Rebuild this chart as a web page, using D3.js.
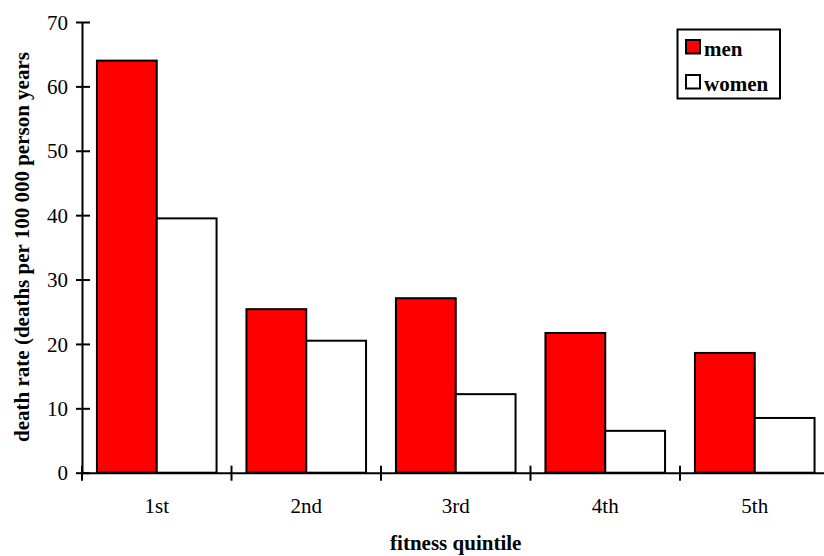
<!DOCTYPE html>
<html><head><meta charset="utf-8">
<script src="https://cdn.jsdelivr.net/npm/d3@7"></script>
<style>
body{margin:0;background:#fff}
svg{display:block}
text{font-family:"Liberation Serif","Times New Roman",serif;fill:#000}
</style></head>
<body>
<script>
const categories = ["1st","2nd","3rd","4th","5th"];
const seriesNames = ["men","women"];
const men = [64.0, 25.4, 27.1, 21.7, 18.6];
const women = [39.5, 20.5, 12.2, 6.5, 8.5];
const yTicks = [0,10,20,30,40,50,60,70];
const colors = {men:"#ff0000", women:"#ffffff"};

const W = 824, H = 556;
const mLeft = 82, mRight = 829.5, mTop = 22, mBottom = 472.7;

const svg = d3.select("body").append("svg").attr("width", W).attr("height", H);

const x = d3.scaleBand().domain(categories).range([mLeft, mRight]).padding(0);
const bw = x.bandwidth();
const xs = d3.scaleBand().domain(seriesNames).range([bw*0.1, bw*0.9]).padding(0);
const y = d3.scaleLinear().domain([0,70]).range([mBottom, mTop]);

const data = categories.map((c,i)=>({cat:c, men:men[i], women:women[i]}));

// bars
const g = svg.append("g");
data.forEach(d=>{
  seriesNames.forEach(s=>{
    g.append("rect")
      .attr("x", x(d.cat)+xs(s))
      .attr("y", y(d[s]))
      .attr("width", xs.bandwidth())
      .attr("height", y(0)-y(d[s]))
      .attr("fill", colors[s])
      .attr("stroke", "#000")
      .attr("stroke-width", 2);
  });
});

// y axis
const yAxis = svg.append("g").attr("transform", `translate(${mLeft},0)`)
  .call(d3.axisLeft(y).tickValues(yTicks).tickSize(0).tickPadding(14));
yAxis.select(".domain").attr("stroke","#000").attr("stroke-width",2);
yAxis.selectAll(".tick text").attr("font-size", 21).attr("font-family","Liberation Serif").attr("dy","0.34em");
yAxis.selectAll(".tick").append("line").attr("x1",-6).attr("x2",8).attr("stroke","#000").attr("stroke-width",2);

// x axis
const xAxis = svg.append("g").attr("transform", `translate(0,${mBottom})`)
  .call(d3.axisBottom(x).tickSize(0).tickPadding(0));
xAxis.select(".domain").attr("stroke","#000").attr("stroke-width",2);
xAxis.selectAll(".tick text").attr("font-size", 21).attr("font-family","Liberation Serif")
  .attr("y", 40).attr("dy", 0);
// boundary ticks
const bounds = categories.map(c=>x(c)).concat([x(categories[categories.length-1])+bw]);
svg.append("g").selectAll("line").data(bounds).join("line")
  .attr("x1", d=>d).attr("x2", d=>d).attr("y1", mBottom-7).attr("y2", mBottom+8)
  .attr("stroke","#000").attr("stroke-width",2);

// axis titles
svg.append("text").attr("x", (mLeft+mRight)/2).attr("y", 550).attr("text-anchor","middle")
  .attr("font-size", 21).attr("font-weight","bold").text("fitness quintile");
svg.append("text").attr("transform", `translate(29,${247}) rotate(-90)`).attr("text-anchor","middle")
  .attr("font-size", 21).attr("font-weight","bold").text("death rate (deaths per 100 000 person years");

// legend
const lg = svg.append("g");
lg.append("rect").attr("x",677.5).attr("y",29.5).attr("width",102.5).attr("height",69)
  .attr("fill","#fff").attr("stroke","#000").attr("stroke-width",2);
seriesNames.forEach((s,i)=>{
  const yy = 40 + i*35;
  lg.append("rect").attr("x",686).attr("y",yy).attr("width",14).attr("height",13.5)
    .attr("fill",colors[s]).attr("stroke","#000").attr("stroke-width",2);
  lg.append("text").attr("x",704).attr("y",yy+15.5).attr("font-size",21).attr("font-weight","bold").text(s);
});
</script>
</body></html>
